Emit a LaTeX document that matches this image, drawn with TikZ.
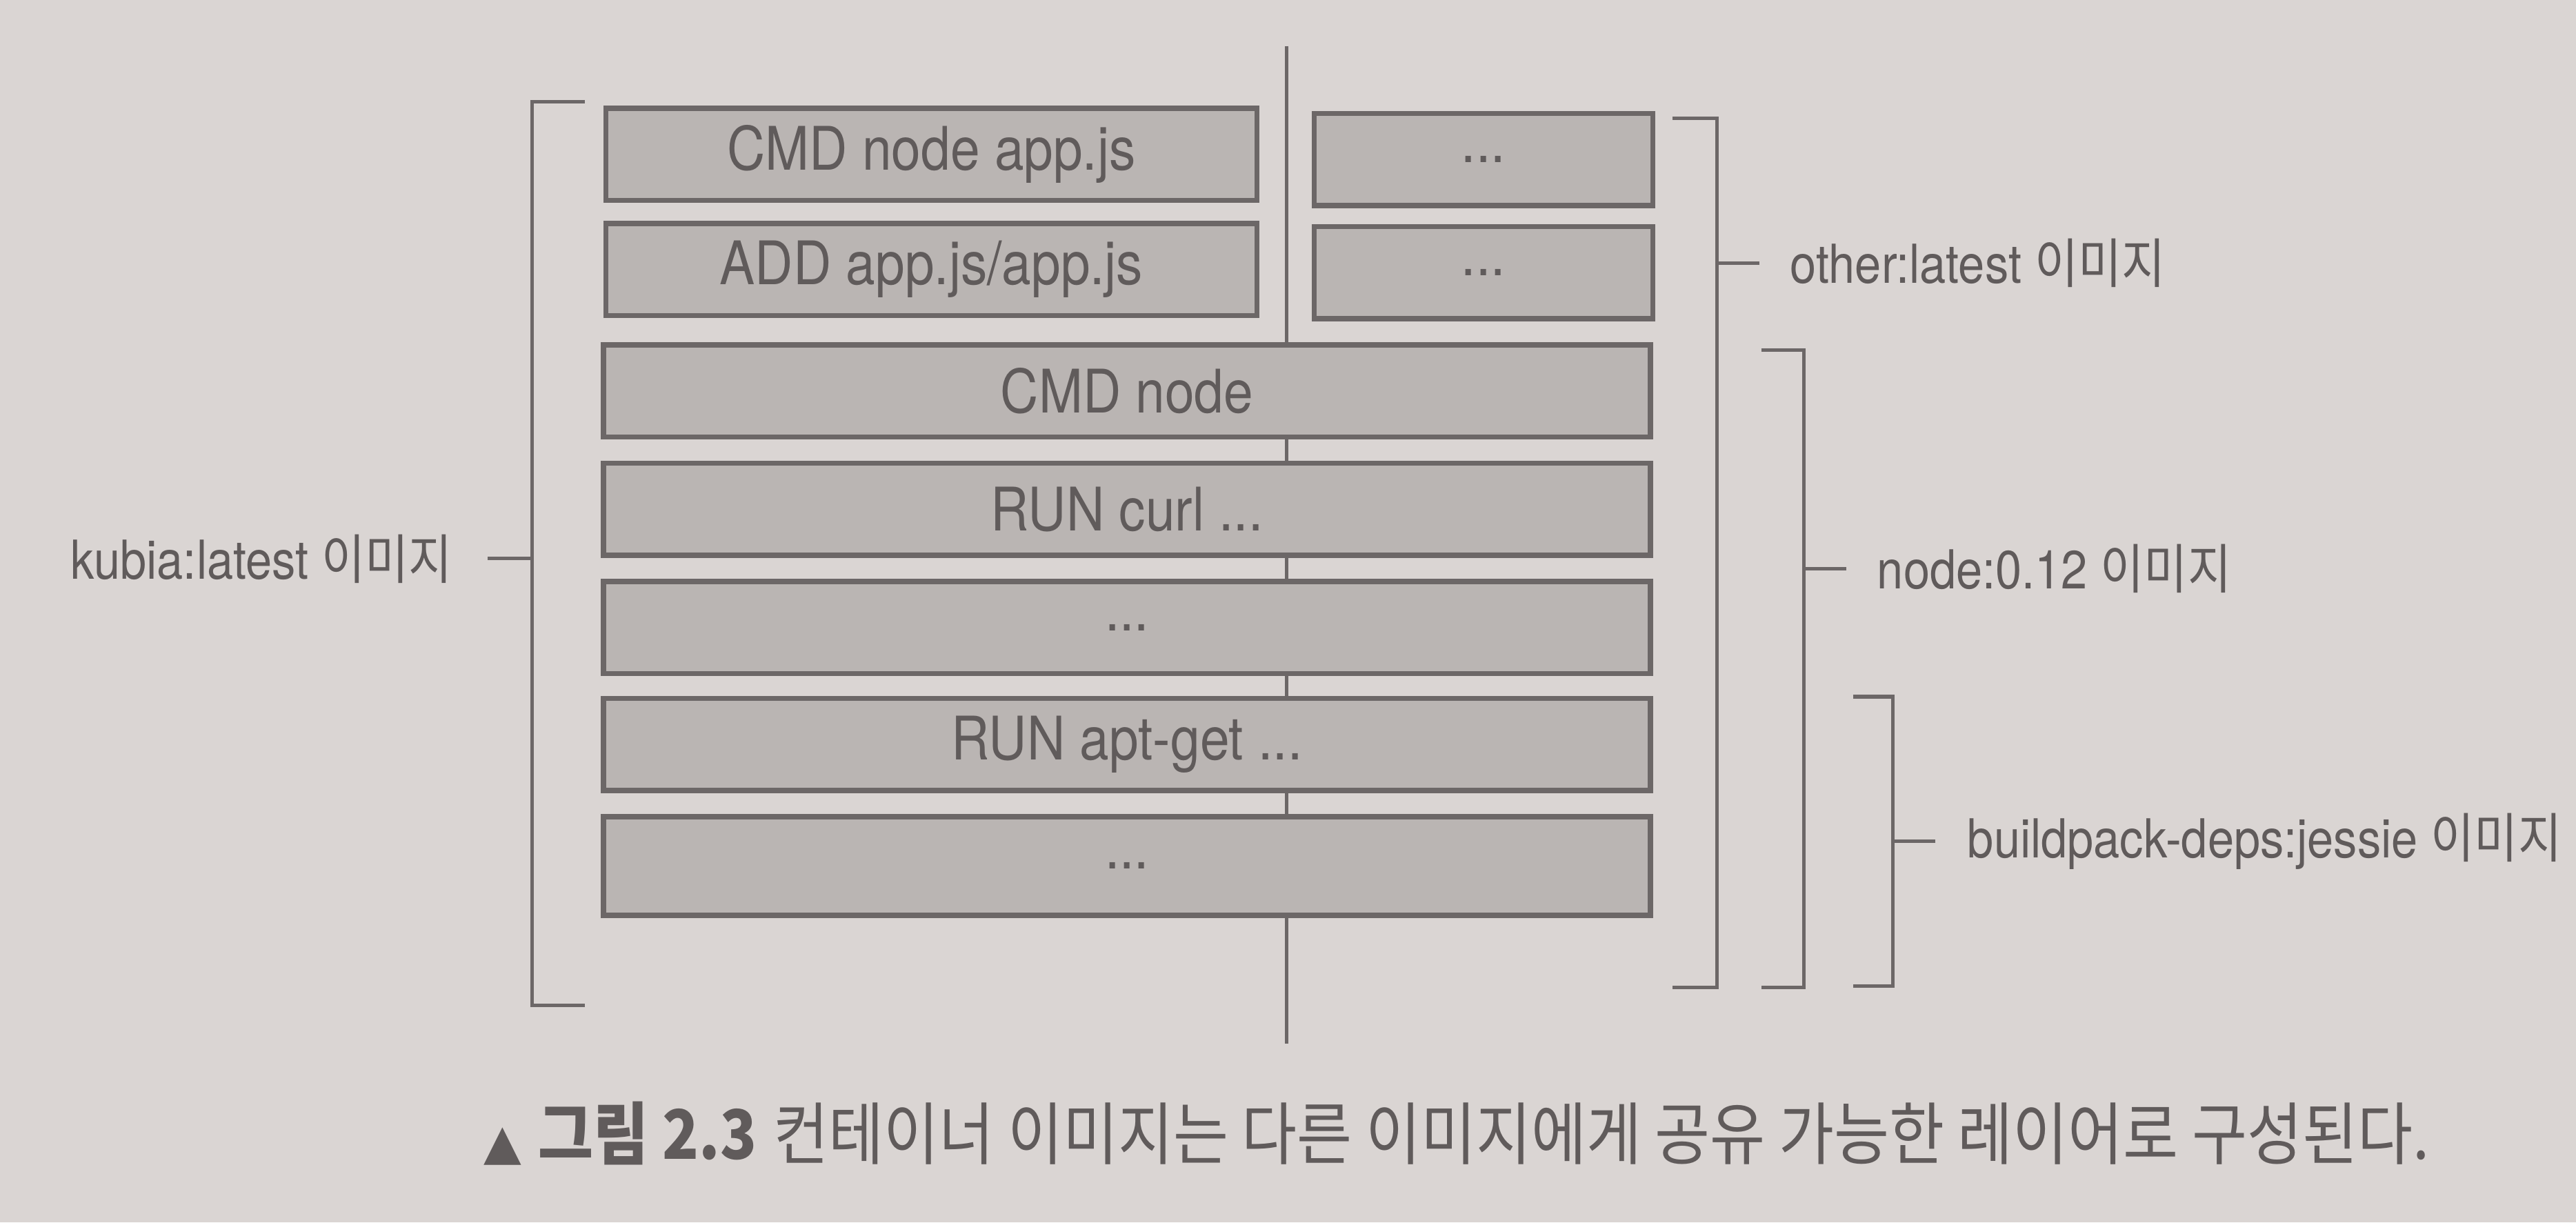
\documentclass[tikz,border=0pt]{standalone}
\usepackage{fontspec}
\setmainfont{TeX Gyre Heros}[FakeStretch=0.88]
\newfontfamily\krfont{Noto Sans CJK KR}[FakeStretch=0.88]
\newfontfamily\symfont{DejaVu Sans}
\usetikzlibrary{positioning}

\begin{document}
\begin{tikzpicture}[x=0.01cm, y=-0.01cm,
        layer/.style={draw=linegray, line width=0.9pt, fill=boxgray, text=textgray,
            minimum height=0.56cm, inner sep=0pt, font=\fontsize{10.4}{12}\selectfont},
        bracket/.style={draw=linegray, line width=0.6pt},
        imglabel/.style={text=textgray, inner sep=0pt, font=\fontsize{9.3}{11}\selectfont}]
        % Define colors for the paper, the layers and the lines
        \definecolor{paper}{RGB}{218,213,211}
        \definecolor{boxgray}{RGB}{186,181,179}
        \definecolor{linegray}{RGB}{108,103,103}
        \definecolor{textgray}{RGB}{96,91,91}

        % Background and bounding box
        \fill[paper] (0,0) rectangle (1568,744);
        \useasboundingbox (0,0) rectangle (1568,744);

        % Vertical split line behind the layers
        \coordinate (splittop) at (783,28);
        \coordinate (splitbot) at (783,635);
        \draw[bracket] (splittop) -- (splitbot);

        % Layers of kubia:latest on top of node:0.12
        \node[layer, minimum width=3.96cm] (appcmd) at (567,94) {CMD node app.js};
        \node[layer, minimum width=3.96cm] (appadd) at (567,164) {ADD app.js/app.js};

        % Layers of other:latest
        \node[layer, minimum width=2.06cm] (othertop) at (903,97) {...};
        \node[layer, minimum width=2.06cm] (otherbot) at (903,166) {...};

        % Shared layers
        \node[layer, minimum width=6.37cm] (nodecmd) at (686,238) {CMD node};
        \node[layer, minimum width=6.37cm] (runcurl) at (686,310) {RUN curl ...};
        \node[layer, minimum width=6.37cm] (nodemore) at (686,382) {...};
        \node[layer, minimum width=6.37cm] (runapt) at (686,453) {RUN apt-get ...};
        \node[layer, minimum width=6.37cm, minimum height=0.6cm] (depsmore) at (686,527) {...};

        % Brackets
        \draw[bracket] (356,62) -| (324,612) -- (356,612);
        \draw[bracket] (1018,72) -| (1045,601) -- (1018,601);
        \draw[bracket] (1072,213) -| (1098,601) -- (1072,601);
        \draw[bracket] (1128,424) -| (1152,600) -- (1128,600);

        % Image labels
        \node[imglabel, anchor=east] (kubia) at (276,340) {kubia:latest {\krfont 이미지}};
        \node[imglabel, anchor=west] (other) at (1089,160) {other:latest {\krfont 이미지}};
        \node[imglabel, anchor=west] (nodeimg) at (1142,346) {node:0.12 {\krfont 이미지}};
        \node[imglabel, anchor=west] (deps) at (1197,512) {buildpack-deps:jessie {\krfont 이미지}};

        % Ticks from the brackets to the labels
        \coordinate (kubiamid) at (324,340);
        \coordinate (othermid) at (1045,160);
        \coordinate (nodemid) at (1098,346);
        \coordinate (depsmid) at (1152,512);
        \draw[bracket] (kubiamid) -- +(-27,0);
        \draw[bracket] (othermid) -- +(26,0);
        \draw[bracket] (nodemid) -- +(26,0);
        \draw[bracket] (depsmid) -- +(26,0);

        % Caption
        \node[anchor=west, text=textgray, inner sep=0pt, font=\fontsize{11.8}{14}\selectfont] (caption) at (294,690)
            {{\symfont\fontsize{8.5}{10}\selectfont ▲} {\krfont\bfseries 그림 2.3} {\krfont 컨테이너 이미지는 다른 이미지에게 공유 가능한 레이어로 구성된다.}};

    \end{tikzpicture}
\end{document}
